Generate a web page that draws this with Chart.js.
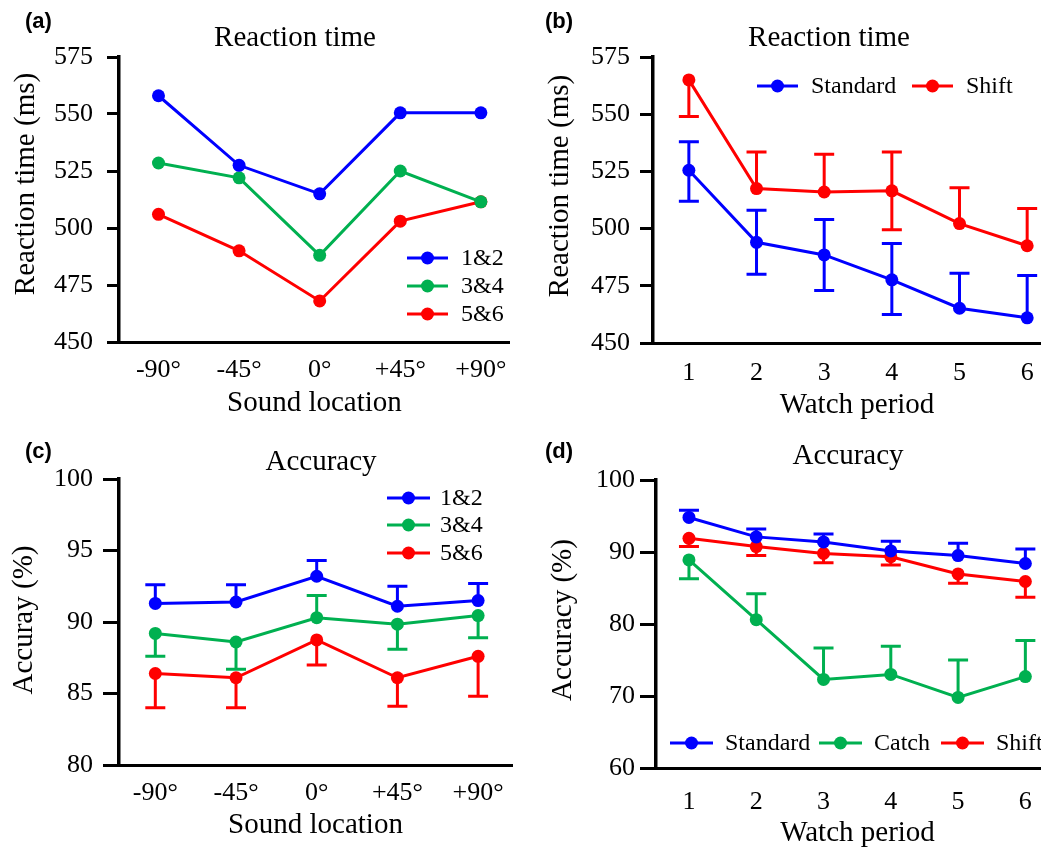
<!DOCTYPE html>
<html>
<head>
<meta charset="utf-8">
<script src="https://cdn.jsdelivr.net/npm/chart.js@4.4.0/dist/chart.umd.min.js"></script>
<style>
  body { margin: 0; background: #fff; width: 1041px; height: 851px; overflow: hidden; position: relative; }
  canvas { position: absolute; }
</style>
</head>
<body>
<canvas id="chartA" width="520" height="425" style="left:0;top:0"></canvas>
<canvas id="chartB" width="560" height="425" style="left:520px;top:0"></canvas>
<canvas id="chartC" width="520" height="426" style="left:0;top:425px"></canvas>
<canvas id="chartD" width="560" height="426" style="left:520px;top:425px"></canvas>
<script>
const locations = ["-90°", "-45°", "0°", "+45°", "+90°"];
const periods = ["1", "2", "3", "4", "5", "6"];

// (a) reaction time by sound location
const rt12 = [558, 527.5, 515, 550.5, 550.5];
const rt34 = [528.5, 522, 488, 525, 511.5];
const rt56 = [506, 490, 468, 503, 511.5];

// (b) reaction time by watch period, error bar ends (null = not drawn)
const rtStandard = [525.5, 494, 488.5, 477.6, 465.2, 461];
const rtStandardHi = [538, 508, 504, 493.5, 480.5, 479.5];
const rtStandardLo = [512, 480, 473, 462.5, null, null];
const rtShift = [565, 517.5, 516, 516.5, 502.2, 492.5];
const rtShiftHi = [null, 533.5, 532.5, 533.5, 517.8, 508.8];
const rtShiftLo = [549, null, null, 499.5, null, null];

// (c) accuracy by sound location
const acc12 = [91.3, 91.4, 93.2, 91.1, 91.5];
const acc12Hi = [92.6, 92.6, 94.3, 92.5, 92.7];
const acc34 = [89.2, 88.6, 90.3, 89.85, 90.45];
const acc34Hi = [null, null, 91.85, null, null];
const acc34Lo = [87.6, 86.7, null, 88.1, 88.9];
const acc56 = [86.4, 86.1, 88.75, 86.1, 87.6];
const acc56Lo = [84.0, 84.0, 87.0, 84.1, 84.8];

// (d) accuracy by watch period
const accStandard = [94.8, 92.1, 91.4, 90.15, 89.5, 88.4];
const accStandardHi = [95.8, 93.2, 92.5, 91.5, 91.2, 90.4];
const accCatch = [88.9, 80.6, 72.3, 73.0, 69.8, 72.7];
const accCatchHi = [null, 84.2, 76.65, 76.9, 75.0, 77.7];
const accCatchLo = [86.3, null, null, null, null, null];
const accShift = [91.9, 90.75, 89.8, 89.35, 86.95, 85.9];
const accShiftLo = [90.75, 89.5, 88.5, 88.2, 85.65, 83.7];

const BLUE = "#0000ff";
const GREEN = "#00b050";
const RED = "#ff0000";
const SERIF = "'Liberation Serif', 'Times New Roman', serif";

Chart.defaults.font.family = SERIF;
Chart.defaults.color = "#000";

// draws T-shaped error bars from each dataset's upper / lower arrays
const errorBars = {
  id: "errorBars",
  beforeDatasetsDraw(chart) {
    const { ctx, scales: { x, y } } = chart;
    chart.data.datasets.forEach(ds => {
      ctx.save();
      ctx.strokeStyle = ds.borderColor;
      ctx.lineWidth = 3;
      ds.data.forEach((pt, i) => {
        const px = x.getPixelForValue(pt.x);
        const py = y.getPixelForValue(pt.y);
        [ds.upper, ds.lower].forEach(arr => {
          if (!arr || arr[i] == null) return;
          const ey = y.getPixelForValue(arr[i]);
          ctx.beginPath();
          ctx.moveTo(px, py);
          ctx.lineTo(px, ey);
          ctx.moveTo(px - 10, ey);
          ctx.lineTo(px + 10, ey);
          ctx.stroke();
        });
      });
      ctx.restore();
    });
  }
};

// line-and-dot legend placed inside the plot
const lineLegend = {
  id: "lineLegend",
  afterDraw(chart, args, opts) {
    const ctx = chart.ctx;
    ctx.save();
    ctx.font = opts.fontSize + "px " + SERIF;
    ctx.textBaseline = "middle";
    ctx.textAlign = "left";
    chart.data.datasets.forEach((ds, i) => {
      const x = opts.xs[i], y = opts.ys[i];
      ctx.strokeStyle = ds.borderColor;
      ctx.fillStyle = ds.borderColor;
      ctx.lineWidth = 3;
      ctx.beginPath();
      ctx.moveTo(x, y);
      ctx.lineTo(x + opts.lineLen, y);
      ctx.stroke();
      ctx.beginPath();
      ctx.arc(x + opts.lineLen / 2, y, 6.5, 0, Math.PI * 2);
      ctx.fill();
      ctx.fillStyle = "#000";
      ctx.fillText(ds.label, x + opts.lineLen + opts.gap, y + 1);
    });
    ctx.restore();
  }
};

// panel letter, heading and rotated y title
const panelText = {
  id: "panelText",
  afterDraw(chart, args, opts) {
    const ctx = chart.ctx;
    ctx.save();
    ctx.fillStyle = "#000";
    ctx.textBaseline = "middle";
    ctx.textAlign = "left";
    ctx.font = "bold 22px 'Liberation Sans', Arial, sans-serif";
    ctx.fillText(opts.letter, opts.letterX, opts.letterY);
    ctx.font = "29px " + SERIF;
    ctx.textAlign = "center";
    ctx.fillText(opts.heading, opts.headingX, opts.headingY);
    ctx.translate(opts.yTitleX, opts.yTitleY);
    ctx.rotate(-Math.PI / 2);
    ctx.fillText(opts.yTitle, 0, 0);
    ctx.restore();
  }
};

function series(label, values, color, upper, lower, xStart) {
  return {
    label: label,
    data: values.map((v, i) => ({ x: i + xStart, y: v })),
    borderColor: color,
    backgroundColor: color,
    borderWidth: 3,
    pointRadius: 6.5,
    pointBorderWidth: 0,
    pointBackgroundColor: color,
    upper: upper,
    lower: lower
  };
}

function makeChart(id, c) {
  const canvas = document.getElementById(id);
  const W = canvas.width, H = canvas.height;
  return new Chart(canvas, {
    type: "line",
    data: { datasets: c.datasets },
    options: {
      responsive: false,
      animation: false,
      layout: { padding: { left: 0, top: c.area.T, right: W - c.area.R, bottom: 0 } },
      scales: {
        x: {
          type: "linear",
          min: c.xMin,
          max: c.xMax,
          afterBuildTicks: s => { s.ticks = c.tickLabels.map((t, i) => ({ value: i + c.xStart })); },
          afterFit: s => { s.height = H - c.area.B; },
          ticks: {
            callback: v => c.tickLabels[v - c.xStart],
            font: { size: 26 },
            color: "#000",
            padding: c.xTickPad,
            maxRotation: 0
          },
          grid: { display: false, drawTicks: false },
          border: { display: true, color: "#000", width: 3 },
          title: {
            display: true,
            text: c.xTitle,
            font: { size: 29 },
            color: "#000",
            padding: { top: 0, bottom: c.xTitlePad }
          }
        },
        y: {
          min: c.yMin,
          max: c.yMax,
          afterFit: s => { s.width = c.area.L; },
          ticks: { stepSize: c.yStep, font: { size: 26 }, color: "#000", padding: c.yTickPad },
          grid: { display: true, drawOnChartArea: false, drawTicks: true, tickLength: c.yTickLen, color: "#000", lineWidth: 3 },
          border: { display: true, color: "#000", width: 3.5 }
        }
      },
      plugins: {
        legend: { display: false },
        tooltip: { enabled: false },
        lineLegend: c.legend,
        panelText: c.text
      }
    },
    plugins: [errorBars, lineLegend, panelText]
  });
}

makeChart("chartA", {
  area: { L: 119, T: 57, B: 342, R: 512 },
  xMin: -0.49, xMax: 4.36, xStart: 0, tickLabels: locations,
  yMin: 450, yMax: 575, yStep: 25, yTickLen: 12, yTickPad: 14, xTickPad: 13,
  xTitle: "Sound location", xTitlePad: 4,
  datasets: [
    series("1&2", rt12, BLUE, null, null, 0),
    series("3&4", rt34, GREEN, null, null, 0),
    series("5&6", rt56, RED, null, null, 0)
  ],
  legend: { xs: [407, 407, 407], ys: [258, 286, 314], lineLen: 41, gap: 13, fontSize: 24 },
  text: { letter: "(a)", letterX: 25, letterY: 22, heading: "Reaction time", headingX: 295, headingY: 38,
          yTitle: "Reaction time (ms)", yTitleX: 26, yTitleY: 184 }
});

makeChart("chartB", {
  area: { L: 133, T: 57, B: 343, R: 541 },
  xMin: 0.47, xMax: 6.5, xStart: 1, tickLabels: periods,
  yMin: 450, yMax: 575, yStep: 25, yTickLen: 13, yTickPad: 10, xTickPad: 15,
  xTitle: "Watch period", xTitlePad: 2,
  datasets: [
    series("Standard", rtStandard, BLUE, rtStandardHi, rtStandardLo, 1),
    series("Shift", rtShift, RED, rtShiftHi, rtShiftLo, 1)
  ],
  legend: { xs: [237, 392], ys: [86, 86], lineLen: 41, gap: 13, fontSize: 24 },
  text: { letter: "(b)", letterX: 25, letterY: 22, heading: "Reaction time", headingX: 309, headingY: 38,
          yTitle: "Reaction time (ms)", yTitleX: 40, yTitleY: 186 }
});

makeChart("chartC", {
  area: { L: 119, T: 54, B: 340, R: 512 },
  xMin: -0.45, xMax: 4.42, xStart: 0, tickLabels: locations,
  yMin: 80, yMax: 100, yStep: 5, yTickLen: 16, yTickPad: 10, xTickPad: 13,
  xTitle: "Sound location", xTitlePad: 8,
  datasets: [
    series("1&2", acc12, BLUE, acc12Hi, null, 0),
    series("3&4", acc34, GREEN, acc34Hi, acc34Lo, 0),
    series("5&6", acc56, RED, null, acc56Lo, 0)
  ],
  legend: { xs: [387, 387, 387], ys: [73, 100, 128], lineLen: 43, gap: 10, fontSize: 24 },
  text: { letter: "(c)", letterX: 25, letterY: 27, heading: "Accuracy", headingX: 321, headingY: 37,
          yTitle: "Accuray (%)", yTitleX: 24, yTitleY: 195 }
});

makeChart("chartD", {
  area: { L: 136, T: 55, B: 343, R: 539 },
  xMin: 0.51, xMax: 6.5, xStart: 1, tickLabels: periods,
  yMin: 60, yMax: 100, yStep: 10, yTickLen: 16, yTickPad: 5, xTickPad: 19,
  xTitle: "Watch period", xTitlePad: 0,
  datasets: [
    series("Standard", accStandard, BLUE, accStandardHi, null, 1),
    series("Catch", accCatch, GREEN, accCatchHi, accCatchLo, 1),
    series("Shift", accShift, RED, null, accShiftLo, 1)
  ],
  legend: { xs: [150, 299, 421], ys: [318, 318, 318], lineLen: 43, gap: 12, fontSize: 24 },
  text: { letter: "(d)", letterX: 25, letterY: 27, heading: "Accuracy", headingX: 328, headingY: 31,
          yTitle: "Accuracy (%)", yTitleX: 43, yTitleY: 195 }
});
</script>
</body>
</html>
